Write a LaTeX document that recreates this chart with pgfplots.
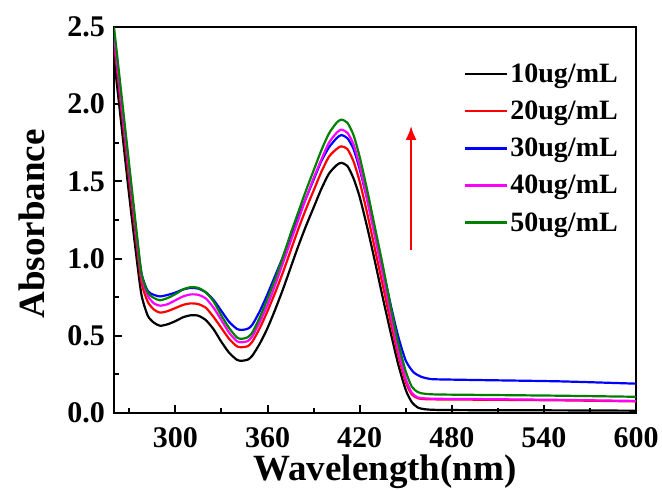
\documentclass[border=0pt]{standalone}
\usepackage{fontspec}
\setmainfont{Liberation Serif}
\usepackage{pgfplots}
\pgfplotsset{compat=1.18}
\usepackage{pgfplotstable}
\usetikzlibrary{arrows.meta}
\definecolor{cgreen}{RGB}{0,128,0}
\definecolor{cmag}{RGB}{255,0,255}

\pgfplotstableread{
x y
260 2.30
265 1.85
270 1.40
275 0.98
278 0.76
282 0.63
286 0.585
290 0.565
295 0.575
300 0.595
305 0.62
310 0.633
315 0.63
320 0.60
325 0.54
330 0.46
335 0.39
340 0.345
343 0.338
347 0.345
350 0.37
355 0.45
360 0.55
365 0.67
370 0.80
375 0.94
380 1.08
385 1.21
390 1.33
395 1.45
400 1.55
405 1.605
408 1.62
412 1.60
416 1.52
420 1.40
425 1.20
430 0.98
435 0.75
440 0.53
445 0.32
450 0.15
454 0.07
458 0.035
462 0.025
470 0.02
500 0.018
550 0.017
600 0.015
}\dataA

\pgfplotstableread{
x y
260 2.40
265 1.95
270 1.50
275 1.07
278 0.84
282 0.72
286 0.67
290 0.65
295 0.66
300 0.68
305 0.70
310 0.71
315 0.705
320 0.68
325 0.62
330 0.55
335 0.48
340 0.432
343 0.426
347 0.432
350 0.46
355 0.55
360 0.66
365 0.78
370 0.91
375 1.05
380 1.19
385 1.32
390 1.44
395 1.56
400 1.66
405 1.71
408 1.727
412 1.71
416 1.63
420 1.50
425 1.29
430 1.06
435 0.83
440 0.60
445 0.38
450 0.20
454 0.12
458 0.095
462 0.09
470 0.088
500 0.086
550 0.082
600 0.075
}\dataB

\pgfplotstableread{
x y
260 2.45
265 2.00
270 1.56
275 1.12
278 0.90
282 0.79
286 0.765
290 0.755
295 0.765
300 0.78
305 0.80
310 0.81
315 0.805
320 0.78
325 0.73
330 0.66
335 0.59
340 0.545
343 0.538
347 0.545
350 0.57
355 0.66
360 0.77
365 0.89
370 1.01
375 1.14
380 1.27
385 1.39
390 1.51
395 1.63
400 1.72
405 1.78
408 1.80
412 1.78
416 1.71
420 1.58
425 1.38
430 1.16
435 0.94
440 0.71
445 0.50
450 0.34
455 0.265
460 0.235
465 0.222
470 0.218
500 0.213
550 0.205
600 0.19
}\dataC

\pgfplotstableread{
x y
260 2.45
265 2.00
270 1.56
275 1.12
278 0.88
282 0.76
286 0.71
290 0.695
295 0.705
300 0.73
305 0.755
310 0.768
315 0.765
320 0.74
325 0.68
330 0.60
335 0.52
340 0.465
343 0.458
347 0.465
350 0.495
355 0.59
360 0.70
365 0.83
370 0.97
375 1.11
380 1.25
385 1.39
390 1.52
395 1.64
400 1.75
405 1.815
408 1.835
412 1.815
416 1.74
420 1.60
425 1.38
430 1.14
435 0.90
440 0.65
445 0.41
450 0.22
454 0.13
458 0.10
462 0.095
470 0.092
500 0.09
550 0.085
600 0.078
}\dataD

\pgfplotstableread{
x y
260 2.50
265 2.05
270 1.60
275 1.15
278 0.90
282 0.78
286 0.745
290 0.73
295 0.745
300 0.77
305 0.80
310 0.815
315 0.81
320 0.78
325 0.72
330 0.63
335 0.55
340 0.49
343 0.48
347 0.49
350 0.52
355 0.62
360 0.74
365 0.87
370 1.01
375 1.16
380 1.30
385 1.44
390 1.57
395 1.70
400 1.81
405 1.88
408 1.90
412 1.88
416 1.80
420 1.66
425 1.44
430 1.20
435 0.96
440 0.70
445 0.46
450 0.27
454 0.17
458 0.135
462 0.125
470 0.12
500 0.117
550 0.112
600 0.105
}\dataE

\begin{document}
\begin{tikzpicture}
\begin{axis}[
  scale only axis,
  width=522pt, height=386pt,
  xmin=260, xmax=600, ymin=0, ymax=2.5,
  xtick={300,360,420,480,540,600},
  ytick={0,0.5,1.0,1.5,2.0,2.5},
  minor xtick={270,330,390,450,510,570},
  minor ytick={0.25,0.75,1.25,1.75,2.25},
  tick pos=left,
  tick align=inside,
  major tick length=8pt,
  minor tick length=5pt,
  every tick/.style={black, line width=2pt},
  axis line style={line width=2.6pt},
  /pgf/number format/assume math mode=true,
  yticklabel style={/pgf/number format/fixed, /pgf/number format/fixed zerofill, /pgf/number format/precision=1, anchor=east, inner sep=0pt, xshift=-9pt},
  xticklabel style={anchor=north, inner sep=0pt, yshift=-14pt},
  every tick label/.append style={font=\fontsize{30}{34}\selectfont\bfseries},
  xlabel={Wavelength(nm)},
  ylabel={Absorbance},
  every axis x label/.style={at={(axis description cs:0.519,-0.176)}, anchor=base, font=\fontsize{37}{42}\selectfont\bfseries},
  every axis y label/.style={at={(axis description cs:-0.157,0.49)}, anchor=center, rotate=90, font=\fontsize{37}{42}\selectfont\bfseries},
  legend style={at={(0.975,0.915)}, anchor=north east, draw=none, fill=none,
    font=\fontsize{28}{30}\selectfont\bfseries, row sep=13pt,
    legend cell align=left},
  legend image code/.code={\draw[#1, line width=2.5pt] (0pt,0pt) -- (42pt,0pt);},
  every axis plot/.append style={line width=2.2pt, smooth, tension=0.4},
]
\addplot[black] table {\dataA};
\addlegendentry{10ug/mL}
\addplot[red] table {\dataB};
\addlegendentry{20ug/mL}
\addplot[blue] table {\dataC};
\addlegendentry{30ug/mL}
\addplot[cmag] table {\dataD};
\addlegendentry{40ug/mL}
\addplot[cgreen] table {\dataE};
\addlegendentry{50ug/mL}
\draw[red, line width=2.5pt, -{Latex[length=14pt,width=11pt]}] (axis cs:453.5,1.055) -- (axis cs:453.5,1.86);
\end{axis}
\pgfresetboundingbox
\path ([xshift=-114pt,yshift=-78pt]current axis.south west) rectangle ([xshift=26pt,yshift=27pt]current axis.north east);
\end{tikzpicture}
\end{document}
